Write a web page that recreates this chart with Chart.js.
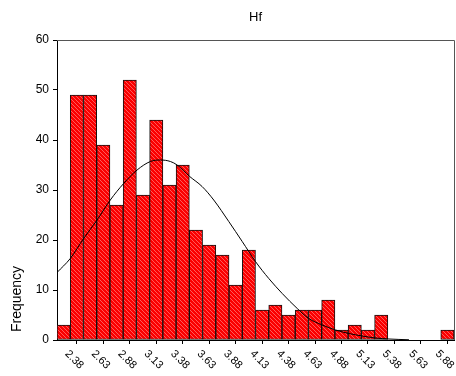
<!DOCTYPE html>
<html><head><meta charset="utf-8">
<script src="https://cdn.jsdelivr.net/npm/chart.js@4/dist/chart.umd.min.js"></script>
<style>html,body{margin:0;padding:0;background:#fff}canvas{display:block}</style>
</head><body>
<canvas id="c" width="456" height="376"></canvas>
<script>
const chartTitle = 'Hf';
const yTitle = 'Frequency';
const binCenters = [2.375,2.5,2.625,2.75,2.875,3.0,3.125,3.25,3.375,3.5,3.625,3.75,3.875,4.0,4.125,4.25,4.375,4.5,4.625,4.75,4.875,5.0,5.125,5.25,5.375,5.5,5.625,5.75,5.875,6.0];
const counts = [3,49,49,39,27,52,29,44,31,35,22,19,17,11,18,6,7,5,6,6,8,2,3,2,5,0,0,0,0,2];
const tickValues = [2.375,2.625,2.875,3.125,3.375,3.625,3.875,4.125,4.375,4.625,4.875,5.125,5.375,5.625,5.875];
const tickLabels = ['2.38','2.63','2.88','3.13','3.38','3.63','3.88','4.13','4.38','4.63','4.88','5.13','5.38','5.63','5.88'];
const yTicks = [0,10,20,30,40,50,60];
const curveX = [2.3125,2.438,2.564,2.691,2.816,2.942,3.069,3.195,3.289,3.384,3.447,3.566,3.683,3.793,3.935,4.062,4.187,4.313,4.44,4.582,4.691,4.818,4.944,5.07,5.196,5.322,5.448,5.637];
const curveY = [13.5,16.3,20.3,24,28,31.3,34,35.7,36,35.7,35,32.7,30.7,28,23.7,19.7,15.7,12.3,9.3,6.3,4.3,3,2,1.3,0.8,0.4,0.2,0.05];
const xMin = 2.3125, xMax = 6.0625;

const FONT = '"Liberation Sans", Arial, sans-serif';

function hatch() {
  const c = document.createElement('canvas');
  c.width = 4; c.height = 4;
  const g = c.getContext('2d');
  g.fillStyle = '#fb0000';
  g.fillRect(0, 0, 4, 4);
  g.fillStyle = '#ff5a5a';
  for (let i = 0; i < 4; i++) g.fillRect(i, i, 1, 1);
  return g.createPattern(c, 'repeat');
}

const deco = {
  id: 'deco',
  afterDraw(chart) {
    const {ctx, chartArea: a, scales: {x}} = chart;
    ctx.save();
    ctx.strokeStyle = '#555';
    ctx.lineWidth = 1;
    ctx.beginPath();
    ctx.moveTo(a.left, a.top + 0.5);
    ctx.lineTo(a.right + 0.5, a.top + 0.5);
    ctx.lineTo(a.right + 0.5, a.bottom);
    ctx.stroke();
    ctx.fillStyle = '#000';
    ctx.font = '13px ' + FONT;
    ctx.textAlign = 'center';
    ctx.textBaseline = 'middle';
    ctx.fillText(chartTitle, (a.left + a.right) / 2, 17);
    ctx.save();
    ctx.translate(17, 299);
    ctx.rotate(-Math.PI / 2);
    ctx.font = '14px ' + FONT;
    ctx.fillText(yTitle, 0, 0);
    ctx.restore();
    ctx.font = '11px ' + FONT;
    ctx.textAlign = 'left';
    ctx.textBaseline = 'middle';
    tickValues.forEach((v, i) => {
      const px = x.getPixelForValue(v);
      ctx.save();
      ctx.translate(px + 3, a.bottom + 12);
      ctx.rotate(Math.PI / 4);
      ctx.fillText(tickLabels[i], 0, 0);
      ctx.restore();
    });
    ctx.restore();
  }
};

new Chart(document.getElementById('c'), {
  type: 'bar',
  data: {
    datasets: [
      {
        type: 'line',
        data: curveX.map((v, i) => ({x: v, y: curveY[i]})),
        borderColor: '#000',
        borderWidth: 1,
        pointRadius: 0,
        fill: false,
        cubicInterpolationMode: 'monotone',
        order: 0
      },
      {
        type: 'bar',
        data: binCenters.map((v, i) => ({x: v, y: counts[i]})),
        backgroundColor: hatch(),
        borderColor: '#111',
        borderWidth: 1,
        borderSkipped: false,
        barPercentage: 1,
        categoryPercentage: 1,
        order: 1
      }
    ]
  },
  options: {
    responsive: false,
    animation: false,
    layout: {padding: {left: 0, right: 2, top: 40, bottom: 0}},
    plugins: {legend: {display: false}, tooltip: {enabled: false}, title: {display: false}},
    scales: {
      x: {
        type: 'linear',
        min: xMin,
        max: xMax,
        offset: false,
        afterBuildTicks(s) { s.ticks = tickValues.map(v => ({value: v})); },
        afterFit(s) { s.height = 36; },
        ticks: {display: false},
        grid: {drawOnChartArea: false, drawTicks: true, tickLength: 4, color: '#000'},
        border: {color: '#000', width: 1}
      },
      y: {
        min: 0,
        max: 60,
        afterBuildTicks(s) { s.ticks = yTicks.map(v => ({value: v})); },
        afterFit(s) { s.width = 57; },
        ticks: {color: '#000', font: {size: 12, family: FONT}, padding: 4},
        grid: {drawOnChartArea: false, drawTicks: true, tickLength: 4, color: '#000'},
        border: {color: '#000', width: 1}
      }
    }
  },
  plugins: [deco]
});
</script>
</body></html>
